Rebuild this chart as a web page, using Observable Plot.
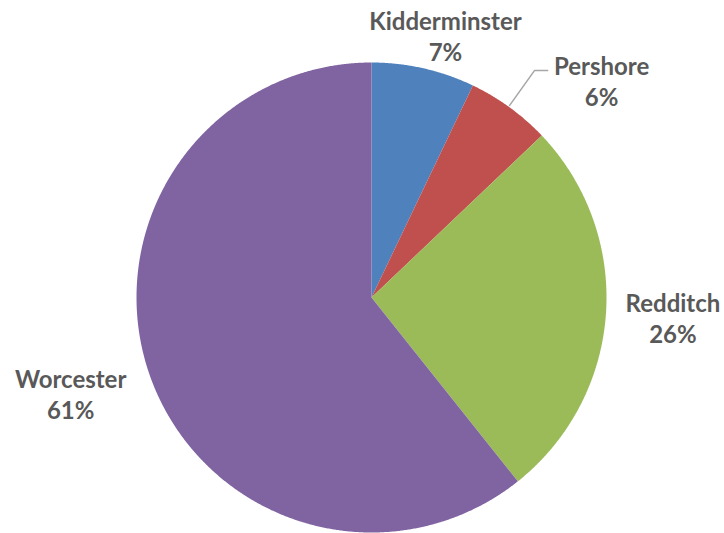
<!DOCTYPE html>
<html>
<head>
<meta charset="utf-8">
<script src="https://cdn.jsdelivr.net/npm/d3@7"></script>
<script src="https://cdn.jsdelivr.net/npm/@observablehq/plot@0.6"></script>
<style>
  html, body { margin: 0; padding: 0; background: #fff; }
  #chart { width: 724px; height: 533px; }
</style>
</head>
<body>
<div id="chart"></div>
<script>
// Data
const towns = ["Kidderminster", "Pershore", "Redditch", "Worcester"];
const shares = [7.1, 5.8, 26.4, 60.7];
const shareLabels = ["7%", "6%", "26%", "61%"];
const colors = ["#4F81BD", "#C0504D", "#9BBB59", "#8064A2"];

// Pie geometry (unit circle, angle clockwise from 12 o'clock)
const R = 235; // pixel radius, used to convert pixel offsets to data units
const arcs = d3.pie().sort(null).value(d => d)(shares);
const toXY = (a, r) => [r * Math.sin(a), r * Math.cos(a)];

const slicePts = [];
arcs.forEach((a, i) => {
  slicePts.push({name: towns[i], x: 0, y: 0});
  const n = Math.max(2, Math.ceil((a.endAngle - a.startAngle) / 0.005));
  for (let k = 0; k <= n; k++) {
    const t = a.startAngle + (a.endAngle - a.startAngle) * k / n;
    const [x, y] = toXY(t, 1);
    slicePts.push({name: towns[i], x, y});
  }
  slicePts.push({name: towns[i], x: 0, y: 0});
});

// Label anchors: edge point at mid angle, then offset in pixels
const offsets = {
  Kidderminster: [22, -31],
  Pershore: [92, -25],
  Redditch: [67, 6],
  Worcester: [-79, 20]
};
const labels = arcs.map((a, i) => {
  const m = (a.startAngle + a.endAngle) / 2;
  const [x, y] = toXY(m, 1);
  return {name: towns[i], pct: shareLabels[i], x, y, dx: offsets[towns[i]][0], dy: offsets[towns[i]][1]};
});

// Leader line for Pershore (from slice edge to label)
const pers = arcs[1];
const pm = (pers.startAngle + pers.endAngle) / 2;
const [px, py] = toXY(pm, 1);
const leaderOffsets = [[0, -2], [25, -37], [38, -37]];
const leader = leaderOffsets.map(([ox, oy]) => ({x: px + ox / R, y: py - oy / R}));

const font = "Lato, 'Open Sans', sans-serif";

const textMarks = labels.flatMap(l => [
  Plot.text([l], {x: "x", y: "y", text: "name", dx: l.dx, dy: l.dy - 15,
    fill: "#595959", fontSize: 24, fontWeight: "bold", fontFamily: font}),
  Plot.text([l], {x: "x", y: "y", text: "pct", dx: l.dx, dy: l.dy + 16,
    fill: "#595959", fontSize: 24, fontWeight: "bold", fontFamily: font})
]);

const chart = Plot.plot({
  width: 724,
  height: 533,
  margin: 0,
  x: {domain: [-1, 1], range: [371 - R, 371 + R], axis: null},
  y: {domain: [-1, 1], range: [297 + R, 297 - R], axis: null},
  color: {domain: towns, range: colors},
  style: {background: "#fff", fontFamily: font},
  marks: [
    Plot.line(slicePts, {x: "x", y: "y", z: "name", fill: "name", stroke: "none", curve: "linear"}),
    Plot.line(leader, {x: "x", y: "y", stroke: "#A6A6A6", strokeWidth: 1.5}),
    ...textMarks
  ]
});
document.getElementById("chart").appendChild(chart);
</script>
</body>
</html>
